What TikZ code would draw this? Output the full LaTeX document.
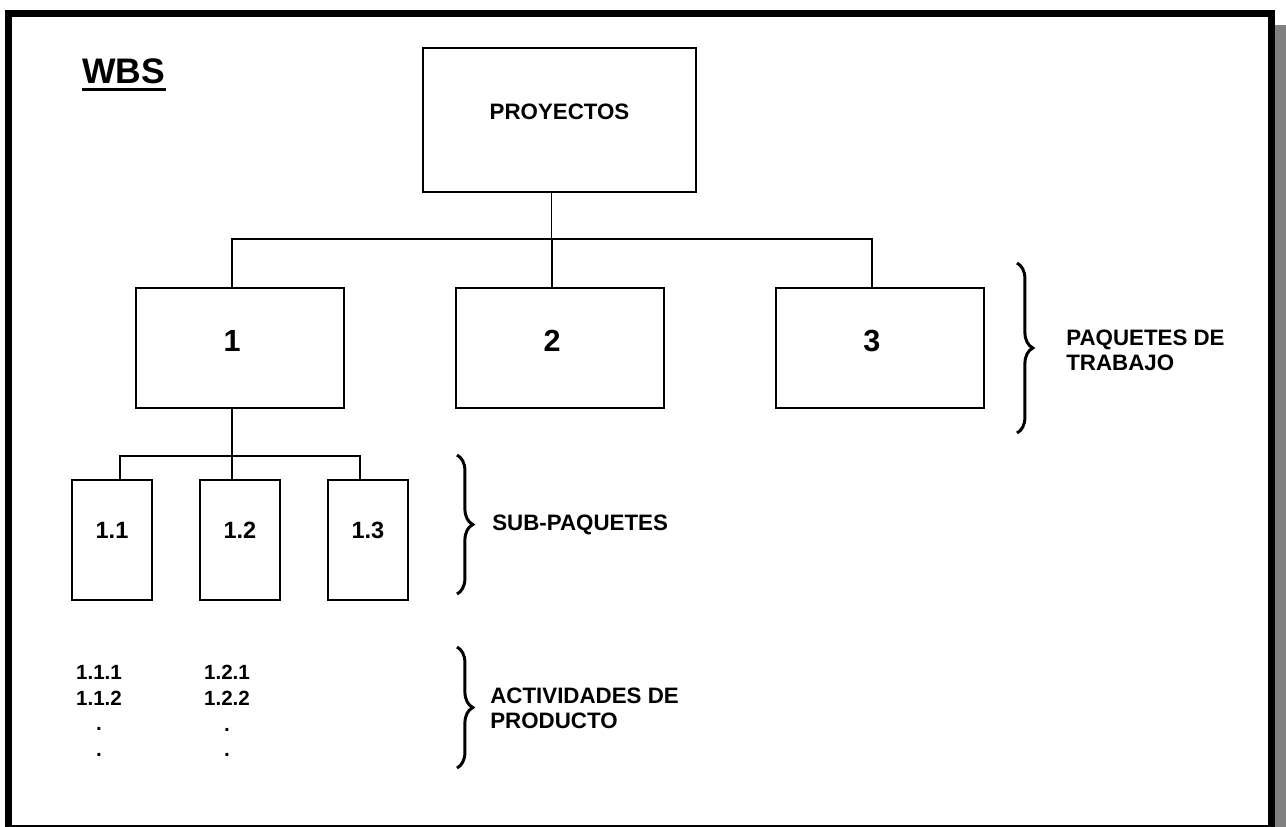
\documentclass[tikz,border=0pt]{standalone}
\usepackage{fontspec}
\setmainfont{Liberation Sans}
\usetikzlibrary{decorations.pathreplacing}
\definecolor{shadowgray}{HTML}{808080}

\tikzset{
	box/.style={draw, line width=1.1pt, fill=white, inner sep=0pt},
	bigbox/.style={box, minimum width=4.16cm, minimum height=2.4cm, text depth=8.5pt, font=\bfseries\fontsize{17.4}{20}\selectfont},
	subbox/.style={box, minimum width=1.6cm, minimum height=2.4cm, text depth=11.3pt, font=\bfseries\fontsize{13.4}{16}\selectfont},
	tree/.style={line width=1.1pt},
	curly/.style={decorate, decoration={brace, amplitude=9pt}, line width=1.7pt},
	lbl/.style={anchor=west, align=left, inner sep=0pt, font=\bfseries\fontsize{12.7}{14.2}\selectfont},
	lst/.style={align=center, inner sep=0pt, font=\bfseries\fontsize{11.7}{14.7}\selectfont}
}

\begin{document}
\begin{tikzpicture}[x=0.02cm, y=-0.02cm, node distance=6.4cm]
			\useasboundingbox (0,0) rectangle (1286,826);
			\clip (0,0) rectangle (1286,826);
			\fill[shadowgray] (20,25) rectangle (1300,840);
			\draw[line width=3.7pt, fill=white] (8.3,13.3) rectangle (1271.7,828);

			\node[anchor=base west, inner sep=0pt, font=\bfseries\fontsize{20.2}{24}\selectfont] (wbs) at (82,83) {WBS};
			\draw[line width=1.7pt] ([yshift=-3.7pt]wbs.base west) -- ([yshift=-3.7pt]wbs.base east);

			\node[box, minimum width=5.46cm, minimum height=2.88cm, text depth=9pt, font=\bfseries\fontsize{12.7}{15}\selectfont] (proy) at (559.5,120) {PROYECTOS};

			\node[bigbox] (p1) at (240,348) {\kern-9pt 1};
			\node[bigbox] (p2)[right of = p1] {\kern-9pt 2};
			\node[bigbox] (p3)[right of = p2] {\kern-9pt 3};

			\node[subbox] (s1) at (112,540) {1.1};
			\node[subbox, node distance=2.56cm] (s2)[right of = s1] {1.2};
			\node[subbox, node distance=2.56cm] (s3)[right of = s2] {1.3};

			\node[lst] (a1) at (99,711) {1.1.1\\1.1.2\\.\\.};
			\node[lst] (a2) at (227,711) {1.2.1\\1.2.2\\.\\.};

			\draw[tree] ([xshift=-1.6mm]proy.south) -- ++(0,48);
			\draw[tree] ([xshift=-1.6mm]p1.north) -- ++(0,-48) -| ([xshift=-1.6mm]p3.north);
			\draw[tree] ([xshift=-1.6mm]p2.north) -- ++(0,-48);
			\draw[tree] ([xshift=-1.6mm]p1.south) -- ++(0,49);
			\draw[tree] ([xshift=1.6mm]s1.north) -- ++(0,-23) -| ([xshift=-1.6mm]s3.north);
			\draw[tree] ([xshift=-1.6mm]s2.north) -- ++(0,-23);

			\draw[curly] (1017,263) -- (1017,433);
			\draw[curly] (457,455) -- (457,594);
			\draw[curly] (457,647) -- (457,768);

			\node[lbl] (trab) at (1066,350) {PAQUETES DE\\TRABAJO};
			\node[lbl] (subp) at (492,525) {SUB-PAQUETES};
			\node[lbl] (act) at (490,708) {ACTIVIDADES DE\\PRODUCTO};
		\end{tikzpicture}
\end{document}
